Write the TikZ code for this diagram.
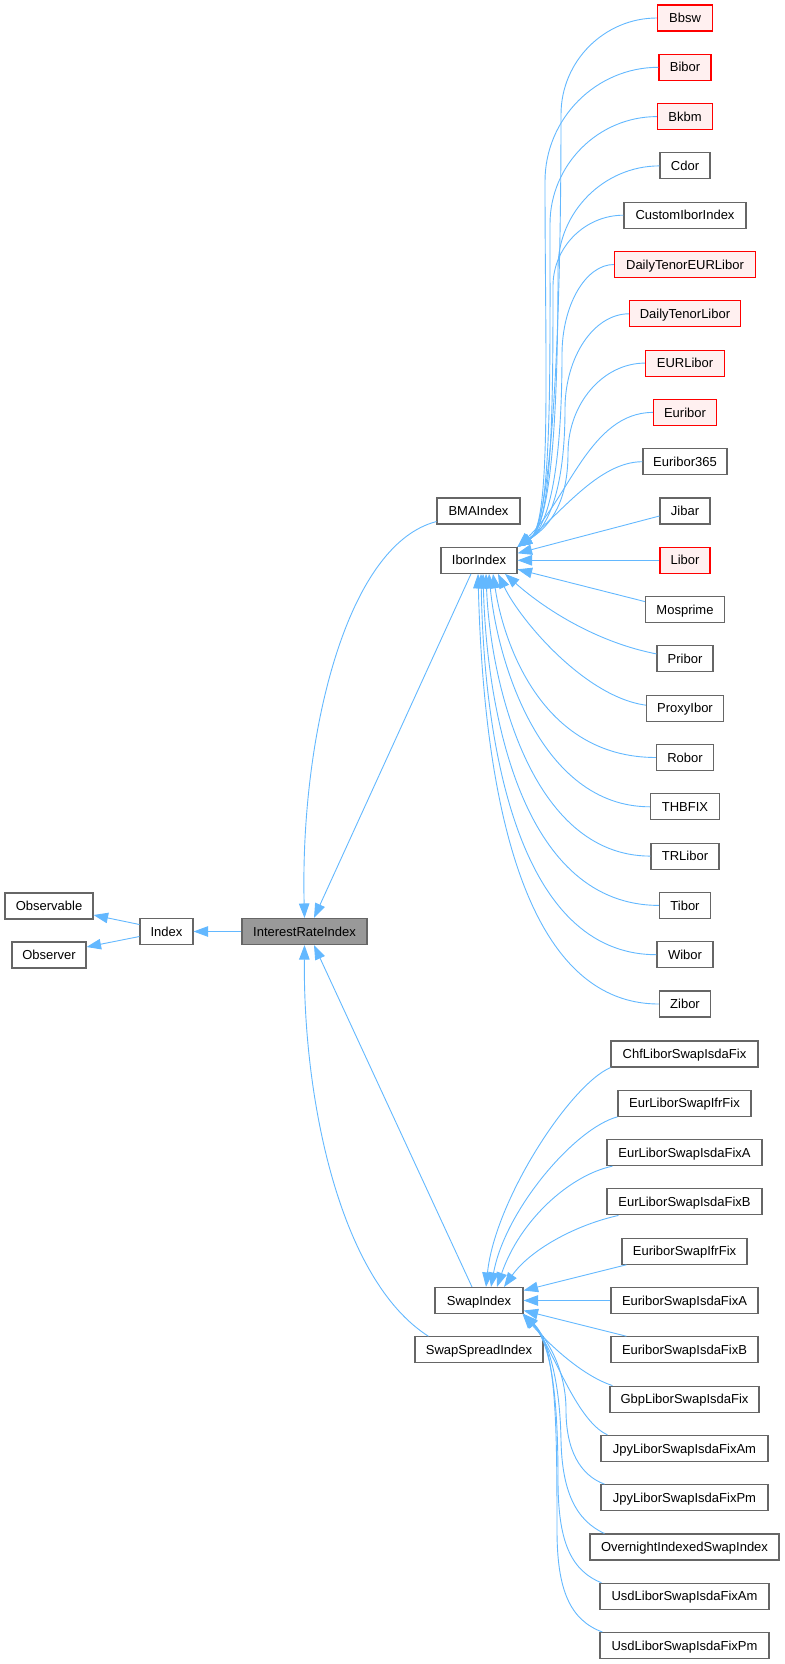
\documentclass[tikz,border=0pt]{standalone}
\usepackage{fontspec}
\setmainfont{Liberation Sans}
\usetikzlibrary{arrows.meta,calc}
\definecolor{edgeblue}{HTML}{63B8FF}
\definecolor{boxgray}{HTML}{666666}
\definecolor{redfill}{HTML}{FFF0F0}
\definecolor{irifill}{HTML}{999999}
\begin{document}
\begin{tikzpicture}[x=1pt,y=-1pt,
  nbox/.style={draw=boxgray, fill=white, line width=1.1pt, minimum height=26pt, inner sep=0pt,
    font=\fontsize{13}{15}\selectfont, text height=10.6pt, text depth=1.3pt},
  rbox/.style={nbox, draw=red, fill=redfill},
  gbox/.style={nbox, fill=irifill},
  inh/.style={draw=edgeblue, line width=0.9pt, -{Triangle[length=14.5pt,width=10.5pt]}}]
\path[use as bounding box] (0,0) rectangle (784,1664);

% left and middle nodes
\node[nbox,minimum width=88pt] (Observable) at (49,906) {Observable};
\node[nbox,minimum width=74pt] (Observer) at (49,955) {Observer};
\node[nbox,minimum width=53pt] (Index) at (166.5,931.5) {Index};
\node[gbox,minimum width=125pt] (IRI) at (304.5,931.5) {InterestRateIndex};
\node[nbox,minimum width=83pt] (BMAIndex) at (478.5,511) {BMAIndex};
\node[nbox,minimum width=76pt] (IborIndex) at (479,560.3) {IborIndex};
\node[nbox,minimum width=88pt] (SwapIndex) at (479,1300.5) {SwapIndex};
\node[nbox,minimum width=128pt] (SwapSpreadIndex) at (479,1349.8) {SwapSpreadIndex};

% upper column
\node[rbox,minimum width=55pt] (Bbsw) at (685,18.0) {Bbsw};
\node[rbox,minimum width=52pt] (Bibor) at (685,67.3) {Bibor};
\node[rbox,minimum width=55pt] (Bkbm) at (685,116.6) {Bkbm};
\node[nbox,minimum width=50pt] (Cdor) at (685,165.9) {Cdor};
\node[nbox,minimum width=122pt] (CustomIborIndex) at (685,215.2) {CustomIborIndex};
\node[rbox,minimum width=141pt] (DailyTenorEURLibor) at (685,264.5) {DailyTenorEURLibor};
\node[rbox,minimum width=111pt] (DailyTenorLibor) at (685,313.8) {DailyTenorLibor};
\node[rbox,minimum width=79pt] (EURLibor) at (685,363.1) {EURLibor};
\node[rbox,minimum width=63pt] (Euribor) at (685,412.4) {Euribor};
\node[nbox,minimum width=84pt] (Euribor365) at (685,461.7) {Euribor365};
\node[nbox,minimum width=50pt] (Jibar) at (685,511.0) {Jibar};
\node[rbox,minimum width=50pt] (Libor) at (685,560.3) {Libor};
\node[nbox,minimum width=79pt] (Mosprime) at (685,609.6) {Mosprime};
\node[nbox,minimum width=56pt] (Pribor) at (685,658.9) {Pribor};
\node[nbox,minimum width=77pt] (ProxyIbor) at (685,708.2) {ProxyIbor};
\node[nbox,minimum width=57pt] (Robor) at (685,757.5) {Robor};
\node[nbox,minimum width=69pt] (THBFIX) at (685,806.8) {THBFIX};
\node[nbox,minimum width=68pt] (TRLibor) at (685,856.1) {TRLibor};
\node[nbox,minimum width=51pt] (Tibor) at (685,905.4) {Tibor};
\node[nbox,minimum width=56pt] (Wibor) at (685,954.7) {Wibor};
\node[nbox,minimum width=51pt] (Zibor) at (685,1004.0) {Zibor};

% lower column
\node[nbox,minimum width=147pt] (Chf) at (684.5,1054.0) {ChfLiborSwapIsdaFix};
\node[nbox,minimum width=133pt] (ELSIfr) at (684.5,1103.3) {EurLiborSwapIfrFix};
\node[nbox,minimum width=155pt] (ELSIA) at (684.5,1152.6) {EurLiborSwapIsdaFixA};
\node[nbox,minimum width=155pt] (ELSIB) at (684.5,1201.9) {EurLiborSwapIsdaFixB};
\node[nbox,minimum width=125pt] (ESIfr) at (684.5,1251.2) {EuriborSwapIfrFix};
\node[nbox,minimum width=147pt] (ESIA) at (684.5,1300.5) {EuriborSwapIsdaFixA};
\node[nbox,minimum width=147pt] (ESIB) at (684.5,1349.8) {EuriborSwapIsdaFixB};
\node[nbox,minimum width=149pt] (Gbp) at (684.5,1399.1) {GbpLiborSwapIsdaFix};
\node[nbox,minimum width=167pt] (JpyAm) at (684.5,1448.4) {JpyLiborSwapIsdaFixAm};
\node[nbox,minimum width=167pt] (JpyPm) at (684.5,1497.7) {JpyLiborSwapIsdaFixPm};
\node[nbox,minimum width=189pt] (Ovn) at (684.5,1547.0) {OvernightIndexedSwapIndex};
\node[nbox,minimum width=169pt] (UsdAm) at (684.5,1596.3) {UsdLiborSwapIsdaFixAm};
\node[nbox,minimum width=169pt] (UsdPm) at (684.5,1645.6) {UsdLiborSwapIsdaFixPm};

% left edges
\draw[inh] (IRI.west) -- (Index.east);
\draw[inh] ($(Index.west)+(0,-7)$) -- ($(Observable.east)+(0,9)$);
\draw[inh] ($(Index.west)+(0,5)$) -- ($(Observer.east)+(0,-8)$);

% middle edges
\draw[inh] ($(BMAIndex.south west)+(0,-3)$) .. controls (345,545) and (300,740) .. (IRI.north);
\draw[inh] ($(IborIndex.south)+(-8,0)$) -- ($(IRI.north)+(9.5,0)$);
\draw[inh] ($(SwapIndex.north)+(-7,0)$) -- ($(IRI.south)+(9.5,0)$);
\draw[inh] ($(SwapSpreadIndex.north west)+(14,0)$) .. controls (340,1280) and (303,1100) .. (IRI.south);

% IborIndex children, upper
\draw[inh] (Bbsw.west) .. controls (604.5,18) and (561,61) .. (561,114.5) .. controls (561,332) and (552,525) .. (IborIndex.north east);
\draw[inh] (Bibor.west) .. controls (596,67.3) and (545,118.6) .. (545,181.3) .. controls (545,365) and (552,525) .. (IborIndex.north east);
\draw[inh] (Bkbm.west) .. controls (598,116.6) and (550,165) .. (550,224) .. controls (550,386) and (552,525) .. (IborIndex.north east);
\draw[inh] (Cdor.west) .. controls (604,165.9) and (558,211.8) .. (558,268) .. controls (558,408) and (552,525) .. (IborIndex.north east);
\draw[inh] (CustomIborIndex.west) .. controls (585,215.2) and (553,247) .. (553,286) .. controls (553,417) and (552,525) .. (IborIndex.north east);
\draw[inh] (DailyTenorEURLibor.west) .. controls (585.6,264.5) and (562,305) .. (562,354.5) .. controls (562,452) and (552,525) .. (IborIndex.north east);
\draw[inh] (DailyTenorLibor.west) .. controls (594,313.8) and (565,356.5) .. (565,409) .. controls (565,479) and (552,525) .. (IborIndex.north east);
\draw[inh] (EURLibor.west) .. controls (603,363.1) and (568,403.6) .. (568,453) .. controls (568,500) and (552,525) .. (IborIndex.north east);
\draw[inh] (Euribor.west) .. controls (590,412.4) and (568,500) .. (IborIndex.north east);
\draw[inh] (Euribor365.west) .. controls (598,461.7) and (560,515) .. (IborIndex.north east);
\draw[inh] ($(Jibar.west)+(0,5)$) -- ($(IborIndex.east)+(0,-7)$);
\draw[inh] (Libor.west) -- (IborIndex.east);
\draw[inh] ($(Mosprime.west)+(0,-8)$) -- ($(IborIndex.east)+(0,9)$);
\draw[inh] ($(Pribor.west)+(0,-5)$) .. controls (600,643) and (548,612) .. ($(IborIndex.south)+(26,0)$);
% IborIndex children, lower
\draw[inh] ($(ProxyIbor.west)+(0,-3)$) .. controls (585,697) and (520,620) .. ($(IborIndex.south)+(19,0)$);
\draw[inh] (Robor.west) .. controls (540,757.5) and (503,640) .. ($(IborIndex.south)+(14,0)$);
\draw[inh] (THBFIX.west) .. controls (540,806.8) and (497,660) .. ($(IborIndex.south)+(10,0)$);
\draw[inh] (TRLibor.west) .. controls (530,856.1) and (490,680) .. ($(IborIndex.south)+(7,0)$);
\draw[inh] (Tibor.west) .. controls (525,905.4) and (487,720) .. ($(IborIndex.south)+(4,0)$);
\draw[inh] (Wibor.west) .. controls (518,954.7) and (484,745) .. ($(IborIndex.south)+(2,0)$);
\draw[inh] (Zibor.west) .. controls (514,1004) and (483,767) .. ($(IborIndex.south)+(-1,0)$);

% SwapIndex children
\draw[inh] (Chf.south west) .. controls (570,1085) and (495,1200) .. ($(SwapIndex.north)+(7,0)$);
\draw[inh] (ELSIfr.south west) .. controls (575,1128) and (505,1210) .. ($(SwapIndex.north)+(12,0)$);
\draw[inh] ($(ELSIA.south west)+(6,0)$) .. controls (570,1175) and (520,1220) .. ($(SwapIndex.north)+(18,0)$);
\draw[inh] ($(ELSIB.south west)+(12,0)$) .. controls (575,1225) and (530,1250) .. ($(SwapIndex.north)+(25,0)$);
\draw[inh] ($(ESIfr.south west)+(5,0)$) -- ($(SwapIndex.east)+(0,-10)$);
\draw[inh] (ESIA.west) -- (SwapIndex.east);
\draw[inh] ($(ESIB.north west)+(16,0)$) -- ($(SwapIndex.east)+(0,10)$);
\draw[inh] ($(Gbp.north west)+(3,0)$) .. controls (580,1375) and (545,1340) .. ($(SwapIndex.south east)+(-1,0)$);
\draw[inh] ($(JpyAm.north west)+(7,0)$) .. controls (575,1420) and (552,1345) .. (SwapIndex.south east);
\draw[inh] ($(JpyPm.north west)+(4,0)$) .. controls (580,1475) and (566,1450) .. (566,1410) .. controls (566,1370) and (548,1340) .. (SwapIndex.south east);
\draw[inh] ($(Ovn.north west)+(15,0)$) .. controls (575,1520) and (562,1490) .. (561,1440) .. controls (560,1385) and (550,1342) .. (SwapIndex.south east);
\draw[inh] ($(UsdAm.north west)+(2,0)$) .. controls (570,1570) and (558,1540) .. (558,1480) .. controls (558,1400) and (552,1345) .. (SwapIndex.south east);
\draw[inh] ($(UsdPm.north west)+(3,0)$) .. controls (570,1620) and (557,1590) .. (557,1530) .. controls (557,1420) and (556,1345) .. (SwapIndex.south east);
\end{tikzpicture}
\end{document}
